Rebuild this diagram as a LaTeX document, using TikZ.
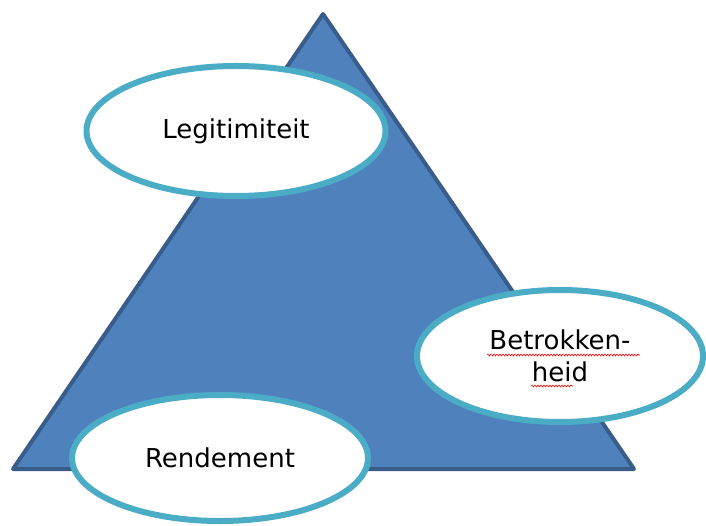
\documentclass[tikz,border=0pt]{standalone}
\usepackage{fontspec}
\setmainfont{DejaVu Sans}
\usetikzlibrary{shapes.geometric,decorations.pathmorphing}
\definecolor{trifill}{HTML}{4F81BD}
\definecolor{triline}{HTML}{385D8A}
\definecolor{bubbleline}{HTML}{4BACC6}
\begin{document}
\begin{tikzpicture}[x=1pt,y=-1pt,
        bubble/.style={ellipse,draw=bubbleline,line width=6pt,fill=white,
            inner sep=0pt,font=\fontsize{26}{32}\selectfont,align=center},
        spell/.style={red,line width=0.6pt,decorate,
            decoration={snake,amplitude=0.9pt,segment length=3pt}}]
                \useasboundingbox (0,0) rectangle (706,526);
                % triangle
                \coordinate (top) at (323,14);
                \coordinate (left) at (13,469);
                \coordinate (right) at (634,469);
                \draw[fill=trifill,draw=triline,line width=4pt,line join=round]
                    (top) -- (right) -- (left) -- cycle;

                % the three bubbles
                \node[bubble,minimum width=299pt,minimum height=130pt] (legit) at (236,131) {Legitimiteit};
                \node[bubble,minimum width=286pt,minimum height=132pt] (betrok) at (560,356) {Betrokken-\\heid};
                \node[bubble,minimum width=296pt,minimum height=126pt] (rend) at (220,458) {Rendement};

                % spell check marks
                \draw[spell] (487,355) -- (640,355);
                \draw[spell] (531,386) -- (573,386);
            \end{tikzpicture}
\end{document}
